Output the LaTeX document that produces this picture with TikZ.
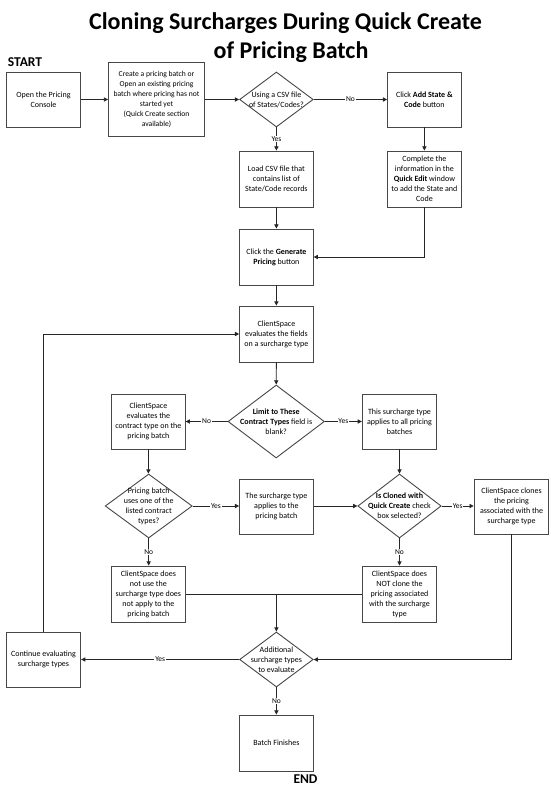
\documentclass[tikz,border=0pt]{standalone}
\usepackage{fontspec}
\setmainfont{Carlito}
\usetikzlibrary{arrows.meta,shapes.geometric}
\tikzset{
  box/.style={draw=black!72, line width=0.9pt, fill=white, align=center,
    minimum width=73.6pt, minimum height=56pt, inner sep=0.5pt,
    font=\fontsize{8}{10}\selectfont},
  dec/.style={diamond, draw=black!72, line width=0.9pt, fill=white, inner sep=0pt},
  dtext/.style={align=center, inner sep=0pt, font=\fontsize{8}{10}\selectfont},
  arr/.style={draw=black!85, line width=0.8pt, -{Triangle[length=4.2pt,width=4.2pt]}},
  ln/.style={draw=black!85, line width=0.8pt},
  lab/.style={fill=white, inner sep=0.8pt, font=\fontsize{7.5}{8}\selectfont},
  marklabel/.style={font=\fontsize{13.5}{15}\selectfont\bfseries, inner sep=0pt, anchor=base},
  titleline/.style={font=\fontsize{24}{29}\selectfont\bfseries, inner sep=0pt, anchor=base},
}
\begin{document}
\begin{tikzpicture}[x=1pt, y=-1pt]
\useasboundingbox[fill=white] (0,0) rectangle (550,794);

% title
\node[titleline] (title1) at (285.5,30) {Cloning Surcharges During Quick Create};
\node[titleline] (title2) at (291,59) {of Pricing Batch};
\node[marklabel] (start) at (25,67) {START};
\node[marklabel] (endl) at (305.5,783) {END};

% row 1
\node[box, minimum width=74.4pt, minimum height=55pt] (b1) at (43.5,99.5) {Open the Pricing\\Console};
\node[box, minimum width=96pt, minimum height=74pt, font=\fontsize{7.6}{10}\selectfont] (b2) at (156.5,99)
  {Create a pricing batch or\\Open an existing pricing\\batch where pricing has not\\started yet\\(Quick Create section\\available)};
\node[dec, minimum width=73.6pt, minimum height=55pt] (d1) at (276.4,99.5) {};
\node[dtext] (d1t) at (d1) {Using a CSV file\\of States/Codes?};
\node[box, minimum height=55pt] (b3) at (424.4,99.5) {Click \textbf{Add State \&}\\\textbf{Code} button};

% row 2
\node[box] (b4) at (276.4,179) {Load CSV file that\\contains list of\\State/Code records};
\node[box] (b5) at (424.4,179) {Complete the\\information in the\\\textbf{Quick Edit} window\\to add the State and\\Code};

% row 3-4
\node[box] (b6) at (276.4,257) {Click the \textbf{Generate}\\\textbf{Pricing} button};
\node[box] (b7) at (276.4,334) {ClientSpace\\evaluates the fields\\on a surcharge type};

% row 5
\node[dec, minimum width=96.4pt, minimum height=73pt] (d2) at (276.2,421.5) {};
\node[dtext] (d2t) at (d2) {\textbf{Limit to These}\\\textbf{Contract Types} field is\\blank?};
\node[box, minimum height=55pt] (b8) at (148.4,421.5) {ClientSpace\\evaluates the\\contract type on the\\pricing batch};
\node[box, minimum width=74.4pt, minimum height=55pt] (b9) at (399.5,421.5) {This surcharge type\\applies to all pricing\\batches};

% row 6
\node[dec, minimum width=87pt, minimum height=64pt] (d3) at (148.7,506) {};
\node[dtext] (d3t) at (d3) {Pricing batch\\uses one of the\\listed contract\\types?};
\node[box, minimum height=55pt] (b10) at (276.4,506.5) {The surcharge type\\applies to the\\pricing batch};
\node[dec, minimum width=83.4pt, minimum height=64pt] (d4) at (399.5,506) {};
\node[dtext] (d4t) at (d4) {\textbf{Is Cloned with}\\\textbf{Quick Create} check\\box selected?};
\node[box, minimum width=74.7pt, minimum height=55pt] (b11) at (511.5,506.5) {ClientSpace clones\\the pricing\\associated with the\\surcharge type};

% row 7
\node[box] (b12) at (148.4,594) {ClientSpace does\\not use the\\surcharge type does\\not apply to the\\pricing batch};
\node[box, minimum width=74.4pt] (b13) at (399.5,594) {ClientSpace does\\NOT clone the\\pricing associated\\with the surcharge\\type};

% row 8
\node[dec, minimum width=73.6pt, minimum height=55pt] (d5) at (276.4,659.5) {};
\node[dtext] (d5t) at (d5) {Additional\\surcharge types\\to evaluate};
\node[box, minimum width=74.4pt, minimum height=55pt] (b14) at (43.5,659.5) {Continue evaluating\\surcharge types};
\node[box] (b15) at (276.4,743) {Batch Finishes};

% connectors
\draw[arr] (b1.east) -- (b2.west |- b1.east);
\draw[arr] (b2.east |- d1.west) -- (d1.west);
\draw[arr] (d1.east) -- node[lab] {No} (b3.west);
\draw[arr] (d1.south) -- node[lab] {Yes} (b4.north);
\draw[arr] (b3.south) -- (b5.north);
\draw[arr] (b4.south) -- (b6.north);
\draw[arr] (b5.south) |- (b6.east);
\draw[arr] (b6.south) -- (b7.north);
\draw[arr] (b7.south) -- (d2.north);
\draw[arr] (d2.west) -- node[lab] {No} (b8.east |- d2.west);
\draw[arr] (d2.east) -- node[lab] {Yes} (b9.west |- d2.east);
\draw[arr] (b8.south) -- (d3.north -| b8.south);
\draw[arr] (b9.south) -- (d4.north -| b9.south);
\draw[arr] (d3.east) -- node[lab] {Yes} (b10.west |- d3.east);
\draw[arr] (b10.east |- d4.west) -- (d4.west);
\draw[arr] (d4.east) -- node[lab] {Yes} (b11.west |- d4.east);
\draw[arr] (d3.south) -- node[lab] {No} (b12.north -| d3.south);
\draw[arr] (d4.south) -- node[lab] {No} (b13.north -| d4.south);
\coordinate (j) at (b12.east -| d5.north);
\draw[ln] (b12.east) -- (b13.west);
\draw[arr] (j) -- (d5.north);
\draw[arr] (b11.south) |- (d5.east);
\draw[arr] (d5.west) -- node[lab] {Yes} (b14.east);
\draw[arr] (d5.south) -- node[lab] {No} (b15.north);
\draw[arr] (b14.north) |- (b7.west);
\end{tikzpicture}
\end{document}
